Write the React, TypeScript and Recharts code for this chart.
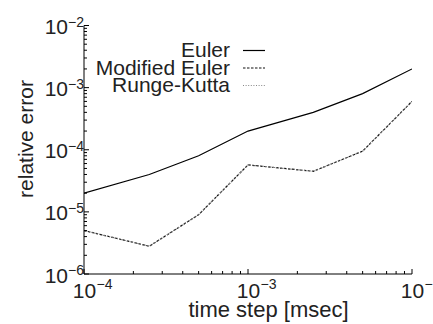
import React from 'react';
import { LineChart, Line, XAxis, YAxis, Legend } from 'recharts';

const timeSteps = [1e-4, 2.5e-4, 5e-4, 1e-3, 2.5e-3, 5e-3, 1e-2];
const eulerError = [2e-5, 4e-5, 8e-5, 2e-4, 4e-4, 8e-4, 2e-3];
const modifiedEulerError = [5e-6, 2.8e-6, 9e-6, 5.7e-5, 4.5e-5, 9.5e-5, 6e-4];
const rungeKuttaError = [5e-6, 2.8e-6, 9e-6, 5.7e-5, 4.5e-5, 9.5e-5, 6e-4];

const xMajorTicks = [1e-4, 1e-3, 1e-2];
const xTickExponents = ['\u22124', '\u22123', '\u22122'];
const yMajorTicks = [1e-6, 1e-5, 1e-4, 1e-3, 1e-2];
const yTickExponents = ['\u22126', '\u22125', '\u22124', '\u22123', '\u22122'];
const minorMultipliers = [2, 3, 4, 5, 6, 7, 8, 9];

const seriesNames = ['Euler', 'Modified Euler', 'Runge-Kutta'];
const seriesKeys = ['euler', 'modified', 'rk'];
const seriesColors = ['#000000', '#111111', '#888888'];
const seriesDash = [undefined, '2.5 1.5', '1 1.6'];

const data = timeSteps.map((t, i) => ({
  t,
  euler: eulerError[i],
  modified: modifiedEulerError[i],
  rk: rungeKuttaError[i],
}));

const withMinor = (majors: number[]) => {
  const out: number[] = [];
  majors.forEach((m, i) => {
    out.push(m);
    if (i < majors.length - 1) minorMultipliers.forEach((k) => out.push(m * k));
  });
  return out;
};
const xTicks = withMinor(xMajorTicks);
const yTicks = withMinor(yMajorTicks);

const FONT = '"Liberation Sans", Arial, Helvetica, sans-serif';
const MAJOR = 5;
const MINOR = 3;

const majorIndex = (arr: number[], v: number) => arr.findIndex((m) => Math.abs(m - v) / m < 1e-9);

const BottomTick = (props: any) => {
  const { x, y, payload } = props;
  const idx = majorIndex(xMajorTicks, payload.value);
  const len = idx >= 0 ? MAJOR : MINOR;
  return (
    <g>
      <line x1={x} x2={x} y1={y} y2={y - len} stroke="#000" strokeWidth={1} />
      {idx >= 0 && (
        <g fontFamily={FONT} fill="#222">
          <text x={x + 0.5} y={y + 23.5} textAnchor="middle" fontSize={21}>10</text>
          <text x={x + 12.5} y={y + 15} textAnchor="start" fontSize={14}>{xTickExponents[idx]}</text>
        </g>
      )}
    </g>
  );
};

const TopTick = (props: any) => {
  const { x, y, payload } = props;
  const idx = majorIndex(xMajorTicks, payload.value);
  const len = idx >= 0 ? MAJOR : MINOR;
  return <line x1={x} x2={x} y1={y} y2={y + len} stroke="#000" strokeWidth={1} />;
};

const LeftTick = (props: any) => {
  const { x, y, payload } = props;
  const idx = majorIndex(yMajorTicks, payload.value);
  const len = idx >= 0 ? MAJOR : MINOR;
  return (
    <g>
      <line x1={x} x2={x + len} y1={y} y2={y} stroke="#000" strokeWidth={1} />
      {idx >= 0 && (
        <g fontFamily={FONT} fill="#222">
          <text x={x - 16} y={y + 8.5} textAnchor="end" fontSize={21}>10</text>
          <text x={x - 16} y={y + 1} textAnchor="start" fontSize={14}>{yTickExponents[idx]}</text>
        </g>
      )}
    </g>
  );
};

const RightTick = (props: any) => {
  const { x, y, payload } = props;
  const idx = majorIndex(yMajorTicks, payload.value);
  const len = idx >= 0 ? MAJOR : MINOR;
  return <line x1={x} x2={x - len} y1={y} y2={y} stroke="#000" strokeWidth={1} />;
};

const LegendContent = () => {
  const rows = [49.5, 67, 84.5];
  return (
    <svg width={433} height={110} style={{ display: 'block' }}>
      {seriesNames.map((name, i) => (
        <g key={name}>
          <text x={230} y={rows[i] + 7.5} textAnchor="end" fontFamily={FONT} fontSize={21} fill="#222">
            {name}
          </text>
          <line
            x1={243}
            x2={265}
            y1={rows[i] + 1}
            y2={rows[i] + 1}
            stroke={seriesColors[i]}
            strokeWidth={1.2}
            strokeDasharray={seriesDash[i]}
          />
        </g>
      ))}
    </svg>
  );
};

export default function App() {
  return (
    <div style={{ width: 433, height: 324, position: 'relative', background: '#fff' }}>
      <style>{`body{margin:0;background:#fff}`}</style>
      <LineChart
        width={433}
        height={324}
        data={data}
        margin={{ top: 25.5, right: 21, bottom: 0, left: 0 }}
      >
        <XAxis
          xAxisId={0}
          dataKey="t"
          type="number"
          scale="log"
          domain={[1e-4, 1e-2]}
          allowDataOverflow
          ticks={xTicks}
          interval={0}
          height={50}
          tickSize={0}
          tickMargin={0}
          tickLine={false}
          axisLine={{ stroke: '#000', strokeWidth: 1 }}
          tick={<BottomTick />}
          label={{
            value: 'time step [msec]',
            position: 'insideBottomLeft',
            offset: 0,
            content: () => (
              <text x={268.5} y={316.5} textAnchor="middle" fontFamily={FONT} fontSize={22} fill="#222">
                time step [msec]
              </text>
            ),
          }}
        />
        <XAxis
          xAxisId="top"
          dataKey="t"
          type="number"
          scale="log"
          orientation="top"
          domain={[1e-4, 1e-2]}
          allowDataOverflow
          ticks={xTicks}
          interval={0}
          height={0}
          tickSize={0}
          tickMargin={0}
          tickLine={false}
          axisLine={{ stroke: '#000', strokeWidth: 1 }}
          tick={<TopTick />}
        />
        <YAxis
          yAxisId={0}
          type="number"
          scale="log"
          domain={[1e-6, 1e-2]}
          allowDataOverflow
          ticks={yTicks}
          interval={0}
          width={84}
          tickSize={0}
          tickMargin={0}
          tickLine={false}
          axisLine={{ stroke: '#000', strokeWidth: 1 }}
          tick={<LeftTick />}
          label={{
            value: 'relative error',
            content: () => (
              <text
                x={33}
                y={139}
                transform="rotate(-90 33 139)"
                textAnchor="middle"
                fontFamily={FONT}
                fontSize={21}
                fill="#222"
              >
                relative error
              </text>
            ),
          }}
        />
        <YAxis
          yAxisId="right"
          orientation="right"
          type="number"
          scale="log"
          domain={[1e-6, 1e-2]}
          allowDataOverflow
          ticks={yTicks}
          interval={0}
          width={0}
          tickSize={0}
          tickMargin={0}
          tickLine={false}
          axisLine={{ stroke: '#000', strokeWidth: 1 }}
          tick={<RightTick />}
        />
        <Legend
          layout="horizontal"
          verticalAlign="middle"
          align="center"
          wrapperStyle={{ position: 'absolute', left: 0, top: 0, width: 433, height: 110, margin: 0, padding: 0 }}
          content={<LegendContent />}
        />
        {seriesKeys.map((k, i) => (
          <Line
            key={k}
            xAxisId={0}
            yAxisId={0}
            dataKey={k}
            name={seriesNames[i]}
            stroke={seriesColors[i]}
            strokeWidth={1.2}
            strokeDasharray={seriesDash[i]}
            dot={false}
            activeDot={false}
            isAnimationActive={false}
            type="linear"
          />
        ))}
      </LineChart>
    </div>
  );
}
